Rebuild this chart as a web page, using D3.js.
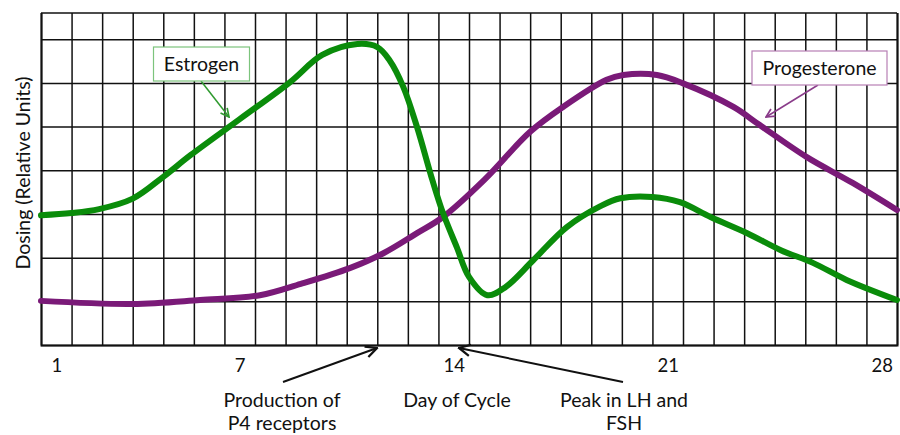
<!DOCTYPE html>
<html>
<head>
<meta charset="utf-8">
<script src="https://cdn.jsdelivr.net/npm/d3@7"></script>
<style>
  body { margin: 0; background: #fff; }
  svg { display: block; font-family: Lato, "Open Sans", sans-serif; }
</style>
</head>
<body>
<div id="chart"></div>
<script>
// ===== DATA =====
const estrogenDays = [0.5, 1.5, 2.4, 3.5, 4.5, 5.4, 7.0, 8.65, 9.7, 10.85, 11.5, 11.9, 12.35, 12.8, 13.3, 13.65, 14.1, 14.5, 15.1, 15.7, 16.6, 17.7, 18.8, 19.45, 20.5, 21.4, 22.4, 23.6, 24.7, 25.75, 26.85, 28.5];
const estrogenValues = [2.97, 3.02, 3.11, 3.35, 3.85, 4.35, 5.17, 6.02, 6.64, 6.89, 6.82, 6.52, 5.91, 4.99, 3.78, 3.02, 2.24, 1.56, 1.14, 1.33, 1.94, 2.70, 3.18, 3.36, 3.39, 3.27, 2.93, 2.56, 2.17, 1.88, 1.49, 1.03];

const progDays = [0.5, 3.5, 5.7, 7.66, 9.0, 10.6, 11.7, 12.8, 13.65, 15.0, 16.5, 17.6, 19.0, 19.55, 20.65, 21.5, 23.15, 24.0, 25.55, 27.05, 28.5];
const progValues = [1.01, 0.94, 1.03, 1.14, 1.40, 1.76, 2.10, 2.56, 2.93, 3.78, 4.88, 5.46, 6.07, 6.18, 6.18, 5.99, 5.45, 5.04, 4.30, 3.71, 3.09];

const dayTicks = [1, 7, 14, 21, 28];
const gridDays = d3.range(0.5, 29, 1);   // cell borders
const gridLevels = d3.range(0, 8, 1);    // horizontal lines

// ===== LAYOUT =====
const width = 900, height = 435;
const plotLeft = 41, plotRight = 897, plotTop = 13, plotBottom = 345;
const fontSize = 19.5;

const svg = d3.select("#chart").append("svg")
  .attr("width", width)
  .attr("height", height);

const x = d3.scaleLinear().domain([0.5, 28.5]).range([plotLeft, plotRight]);
const y = d3.scaleLinear().domain([0, 7.6]).range([plotBottom, plotTop]);

svg.append("defs").selectAll("marker")
  .data([["arrowBlack", "#111"], ["arrowGreen", "#2f9a2f"], ["arrowPurple", "#8a3c8a"]])
  .enter().append("marker")
  .attr("id", d => d[0])
  .attr("viewBox", "0 0 10 10")
  .attr("refX", 9).attr("refY", 5)
  .attr("markerWidth", 7).attr("markerHeight", 7)
  .attr("orient", "auto")
  .append("path")
  .attr("d", "M1,1 L9,5 L1,9")
  .attr("fill", "none")
  .attr("stroke", d => d[1])
  .attr("stroke-width", 1.6);

// ===== GRID =====
const gx = svg.append("g")
  .attr("transform", `translate(0,${plotBottom})`)
  .call(d3.axisBottom(x).tickValues(gridDays).tickSize(-(plotBottom - plotTop)).tickFormat(""));
gx.select(".domain").attr("stroke", "#111").attr("stroke-width", 2);
gx.selectAll(".tick line").attr("stroke", "#111").attr("stroke-width", 1.5);

const gy = svg.append("g")
  .attr("transform", `translate(${plotLeft},0)`)
  .call(d3.axisLeft(y).tickValues(gridLevels).tickSize(-(plotRight - plotLeft)).tickFormat(""));
gy.select(".domain").remove();
gy.selectAll(".tick line").attr("stroke", "#111").attr("stroke-width", 1.5);

svg.append("line")
  .attr("x1", plotLeft).attr("x2", plotRight)
  .attr("y1", plotTop).attr("y2", plotTop)
  .attr("stroke", "#111").attr("stroke-width", 1.5);

// ===== CURVES =====
const curve = d3.line()
  .x(d => x(d[0]))
  .y(d => y(d[1]))
  .curve(d3.curveCatmullRom);

svg.append("path")
  .datum(progDays.map((d, i) => [d, progValues[i]]))
  .attr("d", curve)
  .attr("fill", "none")
  .attr("stroke", "#7a1a78")
  .attr("stroke-width", 6)
  .attr("stroke-linecap", "round");

svg.append("path")
  .datum(estrogenDays.map((d, i) => [d, estrogenValues[i]]))
  .attr("d", curve)
  .attr("fill", "none")
  .attr("stroke", "#0a8c0a")
  .attr("stroke-width", 6)
  .attr("stroke-linecap", "round");

// ===== AXIS LABELS =====
const ax = svg.append("g")
  .attr("transform", `translate(0,${plotBottom})`)
  .call(d3.axisBottom(x).tickValues(dayTicks).tickSize(0).tickPadding(14));
ax.select(".domain").remove();
ax.selectAll("text")
  .attr("font-family", "Lato, 'Open Sans', sans-serif")
  .attr("font-size", 18.5)
  .attr("fill", "#111");

svg.append("text")
  .attr("transform", "translate(30,173) rotate(-90)")
  .attr("text-anchor", "middle")
  .attr("font-size", fontSize)
  .attr("fill", "#111")
  .text("Dosing (Relative Units)");

svg.append("text")
  .attr("x", 457).attr("y", 407)
  .attr("text-anchor", "middle")
  .attr("font-size", fontSize)
  .attr("fill", "#111")
  .text("Day of Cycle");

// ===== ANNOTATIONS =====
function multiLine(cx, lines) {
  const t = svg.append("text")
    .attr("text-anchor", "middle")
    .attr("font-size", fontSize)
    .attr("fill", "#111");
  lines.forEach((s, i) => {
    t.append("tspan").attr("x", cx).attr("y", 407 + i * 23).text(s);
  });
}
multiLine(282, ["Production of", "P4 receptors"]);
multiLine(624, ["Peak in LH and", "FSH"]);

svg.append("line")
  .attr("x1", 283).attr("y1", 382).attr("x2", 377).attr("y2", 348)
  .attr("stroke", "#111").attr("stroke-width", 2)
  .attr("marker-end", "url(#arrowBlack)");
svg.append("line")
  .attr("x1", 623).attr("y1", 382).attr("x2", 459).attr("y2", 348)
  .attr("stroke", "#111").attr("stroke-width", 2)
  .attr("marker-end", "url(#arrowBlack)");

// legend boxes
function callout(bx, by, bw, bh, label, border, stroke, ax1, ay1, ax2, ay2, marker) {
  svg.append("line")
    .attr("x1", ax1).attr("y1", ay1).attr("x2", ax2).attr("y2", ay2)
    .attr("stroke", stroke).attr("stroke-width", 1.5)
    .attr("marker-end", `url(#${marker})`);
  svg.append("rect")
    .attr("x", bx).attr("y", by).attr("width", bw).attr("height", bh)
    .attr("fill", "#fff")
    .attr("stroke", border).attr("stroke-width", 1.2);
  svg.append("text")
    .attr("x", bx + bw / 2).attr("y", by + bh / 2 + 7)
    .attr("text-anchor", "middle")
    .attr("font-size", fontSize)
    .attr("fill", "#111")
    .text(label);
}
callout(153.5, 47, 96, 34, "Estrogen", "#7cc47c", "#2f9a2f", 201, 81, 229, 117, "arrowGreen");
callout(752, 51, 135, 34, "Progesterone", "#b77fb5", "#8a3c8a", 818, 85, 766, 117, "arrowPurple");
</script>
</body>
</html>
